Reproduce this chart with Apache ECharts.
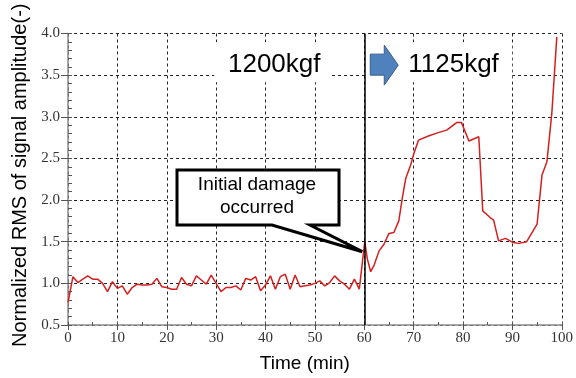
<!DOCTYPE html>
<html>
<head>
<meta charset="utf-8">
<script src="https://cdn.jsdelivr.net/npm/echarts@6/dist/echarts.min.js"></script>
<style>
  html, body { margin: 0; padding: 0; background: #fff; }
  #chart { width: 576px; height: 378px; }
</style>
</head>
<body>
<div id="chart"></div>
<script>
// Elapsed time (min) and normalized RMS of the signal amplitude
const timeMin = [
  0, 1, 2, 3, 4, 5, 6, 7, 8, 9,
  10, 11, 12, 13, 14, 15, 16, 17, 18, 19,
  20, 21, 22, 23, 24, 25, 26, 27, 28, 29,
  30, 31, 32, 33, 34, 35, 36, 37, 38, 39,
  40, 41, 42, 43, 44, 45, 46, 47, 48, 49,
  50, 51, 52, 53, 54, 55, 56, 57, 58, 59,
  60.1, 60.6, 61.3, 62, 63, 64, 65, 66, 67, 67.7,
  68.4, 69.4, 70, 71, 73, 75, 76.7, 78.7, 79.7, 81.2,
  83.2, 84, 85.5, 86.2, 87.2, 88.6, 90.2, 91.3, 92.9, 95,
  96, 97, 98, 99
];
const rmsValues = [
  0.77, 1.08, 1.01, 1.05, 1.09, 1.05, 1.05, 1.00, 0.90, 1.02,
  0.94, 0.97, 0.87, 0.95, 0.99, 0.98, 0.98, 0.99, 1.06, 0.96,
  0.95, 0.93, 0.93, 1.07, 0.99, 0.97, 1.09, 1.04, 0.99, 1.10,
  1.00, 0.90, 0.95, 0.95, 0.97, 0.92, 1.06, 1.04, 1.08, 0.91,
  0.98, 1.09, 0.93, 1.08, 1.11, 0.93, 1.10, 0.96, 0.97, 0.98,
  1.00, 1.03, 0.97, 1.01, 1.09, 1.03, 0.99, 0.93, 1.05, 0.93,
  1.50, 1.30, 1.14, 1.22, 1.39, 1.47, 1.60, 1.61, 1.75, 2.02,
  2.26, 2.42, 2.55, 2.72, 2.77, 2.81, 2.84, 2.93, 2.93, 2.71,
  2.76, 1.87, 1.79, 1.76, 1.51, 1.54, 1.49, 1.48, 1.50, 1.71,
  2.30, 2.46, 3.05, 3.96
];
const xTicks = [0, 10, 20, 30, 40, 50, 60, 70, 80, 90, 100];
const yTicks = [0.5, 1.0, 1.5, 2.0, 2.5, 3.0, 3.5, 4.0];
const damageTime = 60;     // load changed / initial damage
const loadBefore = '1200kgf';
const loadAfter = '1125kgf';

const points = timeMin.map((t, i) => [t, rmsValues[i]]);

const chart = echarts.init(document.getElementById('chart'), null, { renderer: 'canvas' });

const tickFont = { fontFamily: 'Liberation Serif', fontSize: 15, color: '#333' };
const gridDash = { color: '#222', width: 1, type: [3, 3] };

chart.setOption({
  animation: false,
  grid: { left: 68, right: 12.5, top: 33.5, bottom: 50 },
  xAxis: [{
    type: 'value',
    min: xTicks[0], max: xTicks[xTicks.length - 1], interval: 10,
    name: 'Time (min)', nameLocation: 'middle', nameGap: 29,
    nameTextStyle: { fontFamily: 'Liberation Sans', fontSize: 19, color: '#000', padding: [0, 20, 0, 0] },
    axisLine: { lineStyle: { color: '#8c8c8c', width: 1.5 } },
    axisTick: { length: 5, lineStyle: { color: '#555' } },
    axisLabel: Object.assign({ margin: 6 }, tickFont),
    splitLine: { show: true, lineStyle: gridDash }
  }, {
    // minor ticks (every 5 min), pointing into the plot
    type: 'value', position: 'bottom',
    min: xTicks[0], max: xTicks[xTicks.length - 1], interval: 5,
    axisLine: { show: false },
    axisTick: { inside: true, length: 3, lineStyle: { color: '#555' } },
    axisLabel: { show: false }, splitLine: { show: false }
  }],
  yAxis: [{
    type: 'value',
    min: yTicks[0], max: yTicks[yTicks.length - 1], interval: 0.5,
    name: 'Normalized RMS of signal amplitude(-)', nameLocation: 'middle', nameGap: 38,
    nameTextStyle: { fontFamily: 'Liberation Sans', fontSize: 20, color: '#000', padding: [0, 0, 0, 8] },
    axisLine: { show: true, lineStyle: { color: '#8c8c8c', width: 1.5 } },
    axisTick: { show: true, length: 7, lineStyle: { color: '#555' } },
    axisLabel: Object.assign({ margin: 8, formatter: v => v.toFixed(1) }, tickFont),
    splitLine: { show: true, lineStyle: gridDash }
  }, {
    // minor ticks (every 0.1), pointing into the plot
    type: 'value', position: 'left',
    min: 0.5, max: 4.0, interval: 0.1,
    axisLine: { show: false },
    axisTick: { show: true, inside: true, length: 4, lineStyle: { color: '#555' } },
    axisLabel: { show: false }, splitLine: { show: false }
  }],
  series: [{
    type: 'line',
    data: points,
    showSymbol: false,
    lineStyle: { color: '#d41f1f', width: 1.5 },
    z: 3,
    markLine: {
      silent: true,
      symbol: 'none',
      label: { show: false },
      lineStyle: { color: '#000', width: 1.5, type: 'solid' },
      data: [{ xAxis: damageTime }]
    }
  }]
});

// Annotations: load labels and the damage callout
const tip = chart.convertToPixel({ xAxisIndex: 0, yAxisIndex: 0 }, [damageTime - 0.4, 1.38]);
const lineTop = chart.convertToPixel({ xAxisIndex: 0, yAxisIndex: 0 }, [damageTime, 3.5]);
const lx = lineTop[0];
const ly = lineTop[1] - 10;   // vertical centre of the load labels

chart.setOption({
  graphic: [
    { type: 'rect', z: 1, shape: { x: lx - 150, y: ly - 23, width: 117, height: 40 }, style: { fill: '#fff' } },
    { type: 'text', z: 2, style: { text: loadBefore, x: lx - 90, y: ly, align: 'center', verticalAlign: 'middle',
      font: '26px "Liberation Sans"', fill: '#000' } },
    { type: 'rect', z: 1, shape: { x: lx + 3, y: ly - 23, width: 145, height: 40 }, style: { fill: '#fff' } },
    { type: 'polygon', z: 2,
      shape: { points: [
        [lx + 6, ly - 11], [lx + 20, ly - 11], [lx + 20, ly - 20], [lx + 34, ly],
        [lx + 20, ly + 20], [lx + 20, ly + 10], [lx + 6, ly + 10]
      ] },
      style: { fill: '#4f81bd', stroke: '#385d8a', lineWidth: 1 } },
    { type: 'text', z: 2, style: { text: loadAfter, x: lx + 44, y: ly, align: 'left', verticalAlign: 'middle',
      font: '26px "Liberation Sans"', fill: '#000' } },
    { type: 'polygon', z: 10,
      shape: { points: [
        [177, 170], [339, 170], [339, 225], [310, 225], [tip[0], tip[1]], [272, 225], [177, 225]
      ] },
      style: { fill: '#fff', stroke: '#000', lineWidth: 3, lineJoin: 'miter' } },
    { type: 'text', z: 11, style: { text: 'Initial damage', x: 257, y: 185, align: 'center', verticalAlign: 'middle',
      font: '19px "Liberation Sans"', fill: '#000' } },
    { type: 'text', z: 11, style: { text: 'occurred', x: 257, y: 208, align: 'center', verticalAlign: 'middle',
      font: '19px "Liberation Sans"', fill: '#000' } }
  ]
});
</script>
</body>
</html>
